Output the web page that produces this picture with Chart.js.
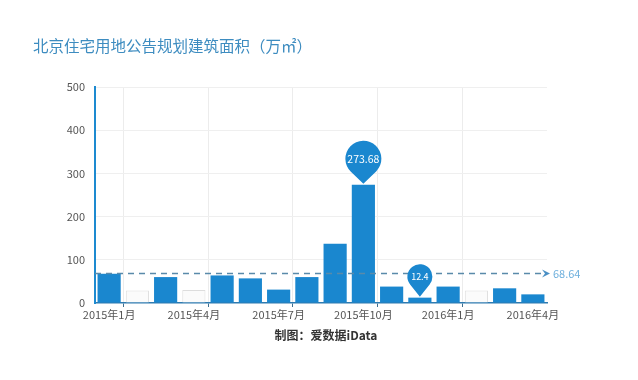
<!DOCTYPE html>
<html>
<head>
<meta charset="utf-8">
<script src="https://cdn.jsdelivr.net/npm/chart.js@4.4.0/dist/chart.umd.min.js"></script>
<style>
  html, body { margin: 0; padding: 0; background: #ffffff; }
  #wrap { position: relative; width: 638px; height: 380px; overflow: hidden; }
  #title { position: absolute; left: 33px; top: 34px; font: 15.5px "Noto Sans CJK SC", sans-serif; color: #3d8cc0; white-space: nowrap; }
  #footer { position: absolute; left: 0; width: 652px; text-align: center; top: 326px; font: bold 12px "Noto Sans CJK SC", sans-serif; color: #333333; white-space: nowrap; }
  canvas { position: absolute; left: 0; top: 0; }
</style>
</head>
<body>
<div id="wrap">
  <canvas id="c" width="638" height="380"></canvas>
  <div id="title">北京住宅用地公告规划建筑面积（万㎡）</div>
  <div id="footer">制图：爱数据iData</div>
</div>
<script>
// ---- data ----
const months = ['2015年1月','2015年2月','2015年3月','2015年4月','2015年5月','2015年6月',
                '2015年7月','2015年8月','2015年9月','2015年10月','2015年11月','2015年12月',
                '2016年1月','2016年2月','2016年3月','2016年4月'];
const areaValues = [67.7, null, 60, null, 63.8, 57, 31, 60, 137, 273.68, 38, 12.4, 38, null, 34, 20];
const placeholderValues = [null, 29, null, 30, null, null, null, null, null, null, null, null, null, 29, null, null];
const averageValue = 68.64;
const labeledMonths = ['2015年1月','2015年4月','2015年7月','2015年10月','2016年1月','2016年4月'];
const yTicks = [0, 100, 200, 300, 400, 500];

const BLUE = '#1a87cf';
const labeledIdx = months.map((m, i) => labeledMonths.includes(m) ? i : -1).filter(i => i >= 0);

const markPlugin = {
  id: 'marks',
  afterDatasetsDraw(chart) {
    const { ctx, chartArea, scales: { y } } = chart;
    ctx.save();
    // average mark line
    const yy = Math.round(y.getPixelForValue(averageValue)) + 0.5;
    ctx.strokeStyle = '#5a8aaa';
    ctx.lineWidth = 1.3;
    ctx.setLineDash([6, 5]);
    ctx.beginPath();
    ctx.moveTo(chartArea.left, yy);
    ctx.lineTo(chartArea.right - 4, yy);
    ctx.stroke();
    ctx.setLineDash([]);
    // arrow head
    const ax = chartArea.right + 3;
    ctx.fillStyle = '#4a8fc4';
    ctx.beginPath();
    ctx.moveTo(ax, yy);
    ctx.lineTo(ax - 8, yy - 4);
    ctx.lineTo(ax - 5, yy);
    ctx.lineTo(ax - 8, yy + 4);
    ctx.closePath();
    ctx.fill();
    ctx.fillStyle = '#6fb0dd';
    ctx.font = '11px "Noto Sans CJK SC", sans-serif';
    ctx.textAlign = 'left';
    ctx.textBaseline = 'middle';
    ctx.fillText(averageValue.toFixed(2), ax + 3, yy);

    // max / min pins
    const meta = chart.getDatasetMeta(0);
    let maxI = -1, minI = -1;
    areaValues.forEach((v, i) => {
      if (v === null) return;
      if (maxI < 0 || v > areaValues[maxI]) maxI = i;
      if (minI < 0 || v < areaValues[minI]) minI = i;
    });
    const drawPin = (i, r, d, fontSize) => {
      const el = meta.data[i];
      const tipX = el.x, tipY = el.y - 1;
      const cx = tipX, cy = tipY - d;
      const th = Math.acos(r / d);
      ctx.fillStyle = BLUE;
      ctx.beginPath();
      ctx.arc(cx, cy, r, Math.PI / 2 + th, Math.PI / 2 - th + Math.PI * 2, false);
      ctx.lineTo(tipX, tipY);
      ctx.closePath();
      ctx.fill();
      ctx.fillStyle = '#ffffff';
      ctx.font = fontSize + 'px "Noto Sans CJK SC", sans-serif';
      ctx.textAlign = 'center';
      ctx.textBaseline = 'middle';
      ctx.fillText(String(areaValues[i]), cx, cy);
    };
    drawPin(maxI, 18, 25, 10.5);
    drawPin(minI, 12.5, 20, 9);
    ctx.restore();
  }
};

new Chart(document.getElementById('c'), {
  type: 'bar',
  data: {
    labels: months,
    datasets: [
      {
        data: areaValues,
        backgroundColor: BLUE,
        borderWidth: 0,
        grouped: false,
        categoryPercentage: 0.82,
        barPercentage: 1.0,
        order: 1
      },
      {
        data: placeholderValues,
        backgroundColor: '#fbfbfb',
        borderColor: '#dddddd',
        borderWidth: 1,
        grouped: false,
        categoryPercentage: 0.82,
        barPercentage: 1.0,
        order: 2
      }
    ]
  },
  options: {
    responsive: false,
    animation: false,
    events: [],
    layout: { padding: { left: 0, right: 91, top: 87, bottom: 57 } },
    plugins: { legend: { display: false }, tooltip: { enabled: false }, title: { display: false } },
    scales: {
      x: {
        offset: true,
        grid: {
          offset: true,
          drawTicks: true,
          tickLength: 4,
          color: (c) => labeledIdx.includes(c.index - 1) ? '#ececec' : 'rgba(0,0,0,0)',
          tickColor: (c) => labeledIdx.includes(c.index - 1) ? '#3f6f8f' : 'rgba(0,0,0,0)'
        },
        border: { display: true, color: '#2f7bb0', width: 1.5 },
        ticks: {
          autoSkip: false,
          maxRotation: 0,
          padding: 1,
          color: '#555555',
          font: { size: 11, family: '"Noto Sans CJK SC", sans-serif' },
          callback: function (v, i) { const m = months[i]; return labeledMonths.includes(m) ? m : ''; }
        },
        afterFit: (s) => { s.height = 20; }
      },
      y: {
        min: 0,
        max: 500,
        afterBuildTicks: (s) => { s.ticks = yTicks.map(v => ({ value: v })); },
        grid: { color: (c) => c.tick && c.tick.value === 0 ? 'rgba(0,0,0,0)' : '#efefef', drawTicks: false },
        border: { display: true, color: '#1d8ad0', width: 2 },
        ticks: {
          padding: 10,
          color: '#555555',
          font: { size: 11, family: '"Noto Sans CJK SC", sans-serif' }
        },
        afterFit: (s) => { s.width = 95; }
      }
    }
  },
  plugins: [markPlugin]
});
</script>
</body>
</html>
